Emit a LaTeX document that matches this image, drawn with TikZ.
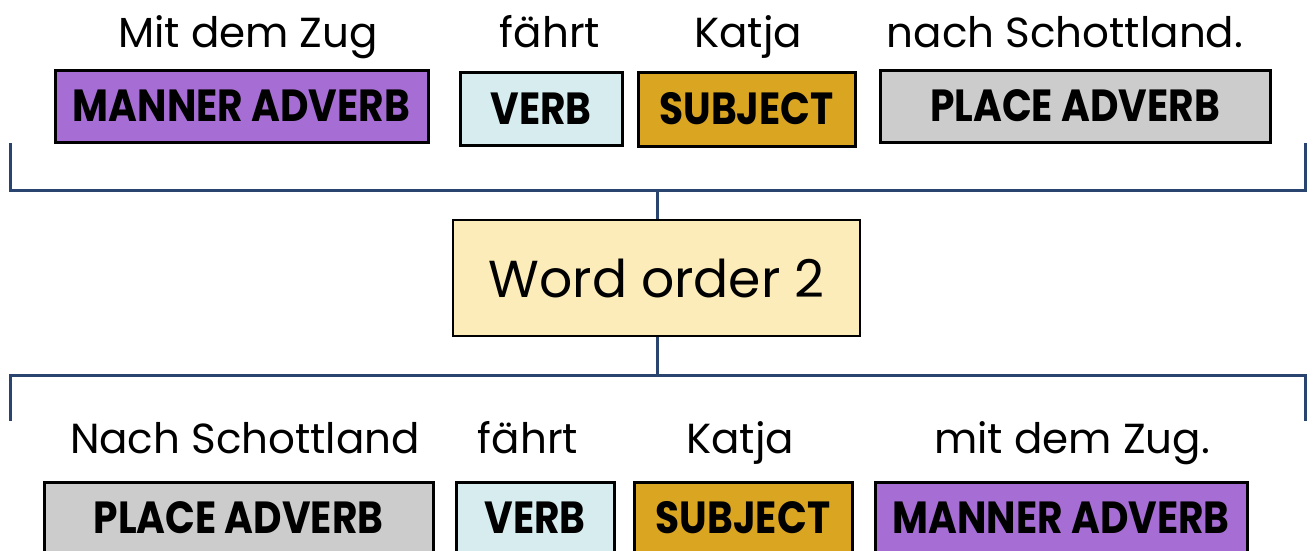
\documentclass[tikz,border=0pt]{standalone}
\usepackage{fontspec}
\setmainfont{Poppins}
\newfontfamily\labfont[FakeStretch=0.87]{Poppins}
\definecolor{purplebox}{HTML}{A66DD4}
\definecolor{verbbox}{HTML}{D7ECEF}
\definecolor{subjbox}{HTML}{DAA521}
\definecolor{placebox}{HTML}{CCCCCC}
\definecolor{wobox}{HTML}{FCECB9}
\definecolor{navy}{HTML}{2A4470}
\tikzset{
  tag/.style={draw=black, line width=3pt, inner sep=0pt, font=\labfont\bfseries\fontsize{45}{48}\selectfont},
  word/.style={anchor=base, inner sep=0pt, font=\fontsize{42}{46}\selectfont},
  bracket/.style={draw=navy, line width=3pt},
  title/.style={draw=black, line width=1.5pt, fill=wobox, inner sep=0pt, font=\fontsize{52}{56}\selectfont}
}
\begin{document}
\begin{tikzpicture}[x=1pt,y=-1pt]
\clip (0,0) rectangle (1313,550);
\fill[white] (0,0) rectangle (1313,550);

% first sentence
\node[word] (w1) at (248,47) {Mit dem Zug};
\node[word] (w2) at (550,47) {fährt};
\node[word] (w3) at (748,47) {Katja};
\node[word] (w4) at (1065,47) {nach Schottland.};
\node[tag, fill=purplebox, minimum width=373pt, minimum height=72pt] (a1) at (241.5,106) {MANNER ADVERB};
\node[tag, fill=verbbox, minimum width=162pt, minimum height=73pt] (a2) at (541,108.5) {VERB};
\node[tag, fill=subjbox, minimum width=217pt, minimum height=74pt] (a3) at (746.5,109) {SUBJECT};
\node[tag, fill=placebox, minimum width=390pt, minimum height=72pt] (a4) at (1075,106) {PLACE ADVERB};

% central label
\node[title, minimum width=407pt, minimum height=116pt] (wo) at (656.5,278) {Word order 2};

% brackets joining both sentences to the label
\coordinate (tL) at (10,143);
\coordinate (tR) at (1305,143);
\coordinate (tM) at (657,190);
\coordinate (bL) at (10,421);
\coordinate (bR) at (1305,421);
\coordinate (bM) at (657,375);
\draw[bracket] (tL) |- (tR |- tM) -- (tR);
\draw[bracket] (tM) -- (wo.north -| tM);
\draw[bracket] (bL) |- (bR |- bM) -- (bR);
\draw[bracket] (wo.south -| bM) -- (bM);

% second sentence
\node[word] (v1) at (245,453) {Nach Schottland};
\node[word] (v2) at (528,453) {fährt};
\node[word] (v3) at (740,453) {Katja};
\node[word] (v4) at (1072,453) {mit dem Zug.};
\node[tag, fill=placebox, minimum width=389pt, minimum height=72pt] (b1) at (238.5,518) {PLACE ADVERB};
\node[tag, fill=verbbox, minimum width=158pt, minimum height=72pt] (b2) at (535,518) {VERB};
\node[tag, fill=subjbox, minimum width=218pt, minimum height=72pt] (b3) at (743,518) {SUBJECT};
\node[tag, fill=purplebox, minimum width=372pt, minimum height=72pt] (b4) at (1061,518) {MANNER ADVERB};
\end{tikzpicture}
\end{document}
